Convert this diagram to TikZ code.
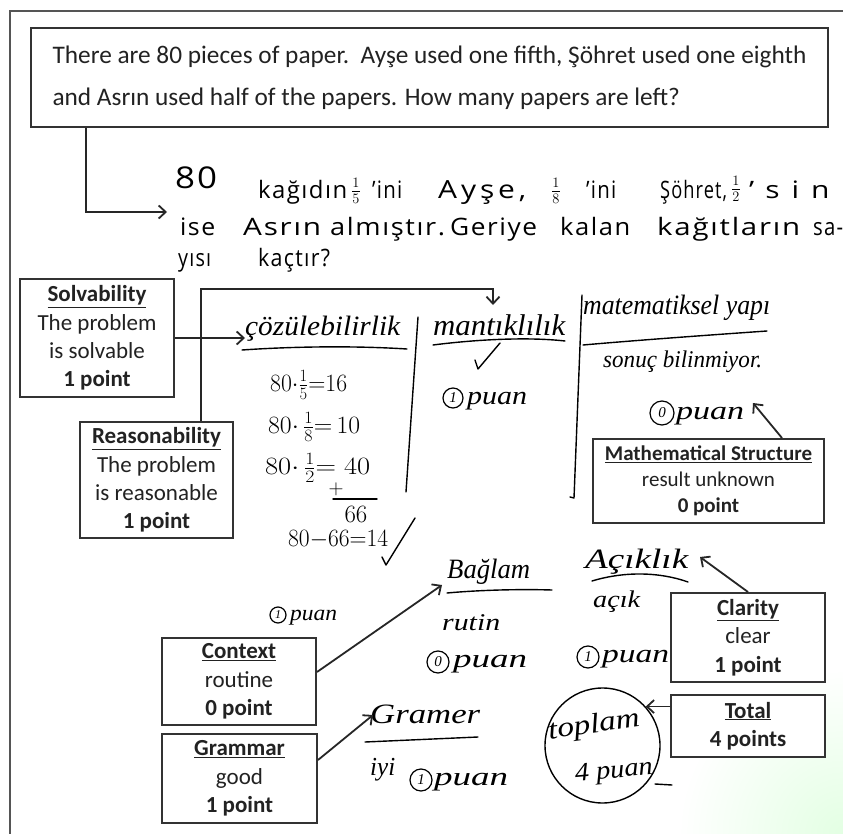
\documentclass[tikz,border=0pt]{standalone}
\usepackage{fontspec}
\usepackage{graphicx}
\setmainfont{Carlito}
\newfontfamily\handprint[LetterSpace=6]{Open Sans}
\newfontfamily\handprintwide[LetterSpace=13]{Open Sans}
\newfontfamily\handprintxwide[LetterSpace=40]{Open Sans}
\newfontfamily\handcurs{Liberation Serif}
\usetikzlibrary{arrows.meta,calc}
\definecolor{boxc}{HTML}{333333}
\definecolor{txtc}{HTML}{222222}
\definecolor{framec}{HTML}{555555}
\newcommand\hw[2]{\resizebox{#1pt}{\height}{#2}}
\begin{document}
\begin{tikzpicture}[x=1pt,y=-1pt,
  box/.style={draw=boxc, line width=2pt, fill=white, align=center, inner sep=0pt, text=txtc,
    font=\fontsize{23}{28.3}\selectfont},
  conn/.style={draw=black!85, line width=1.8pt, -{Straight Barb[length=7pt,width=13pt,line width=1.8pt]}},
  hwp/.style={font=\handprint\fontsize{24}{24}\selectfont, anchor=base west, inner sep=0pt},
  hwc/.style={font=\handcurs\itshape\fontsize{28}{28}\selectfont, anchor=base west, inner sep=0pt},
  hmath/.style={font=\fontsize{24}{24}\selectfont, anchor=west, inner sep=0pt},
  hfrac/.style={font=\fontsize{22}{22}\selectfont, inner sep=0pt},
  hs/.style={line width=1.4pt, line cap=round, line join=round},
  cnum/.style={circle, draw, line width=1.2pt, inner sep=0pt, font=\handcurs\itshape\fontsize{15}{15}\selectfont}]
\useasboundingbox (0,0) rectangle (843,834);
\fill[white] (0,0) rectangle (843,834);
\shade[inner color=green!11, outer color=white] (843,834) circle (165);
% outer frame
\draw[framec, line width=1.5pt] (843,11) -- (10,11) -- (10,834);

% question box
\node[box, minimum width=797pt, minimum height=99pt, align=left, font=\fontsize{25.3}{42}\selectfont] (q) at (429.5,77.5)
 {There are 80 pieces of paper.\ \ Ayşe used one fifth, Şöhret used one eighth\\and Asrın used half of the papers. How many papers are left?};

% handwritten problem (line 1)
\node[hwp, font=\handprint\fontsize{30}{30}\selectfont] (w80) at (175,189) {\hw{42}{80}};
\node[hwp] (k1) at (258,199) {\hw{89}{kağıdın}};
\node[hfrac] (f1) at (356,191) {$\frac{1}{5}$};
\node[hwp] (i1) at (372,199) {\hw{30}{’ini}};
\node[hwp, font=\handprintwide\fontsize{25}{25}\selectfont] (ay) at (438,199) {\hw{88}{Ayşe,}};
\node[hfrac] (f2) at (556,191) {$\frac{1}{8}$};
\node[hwp] (i2) at (586,199) {\hw{30}{’ini}};
\node[hwp] (so) at (660,199) {\hw{67}{Şöhret,}};
\node[hfrac] (f3) at (736,189) {$\frac{1}{2}$};
\node[hwp, font=\handprintxwide\fontsize{24}{24}\selectfont] (si) at (749,199) {\hw{100}{’sini}};
% line 2
\node[hwp] (ise) at (180,236) {\hw{35}{ise}};
\node[hwp] (asr) at (243,236) {\hw{78}{Asrın}};
\node[hwp] (alm) at (330,236) {\hw{115}{almıştır.}};
\node[hwp] (ger) at (450,236) {\hw{87}{Geriye}};
\node[hwp] (kal) at (560,236) {\hw{70}{kalan}};
\node[hwp] (kag) at (657,236) {\hw{143}{kağıtların}};
\node[hwp] (sa) at (813,236) {\hw{30}{sa-}};
% line 3
\node[hwp] (yis) at (178,267) {\hw{33}{yısı}};
\node[hwp] (kac) at (258,267) {\hw{72}{kaçtır?}};

\coordinate (hwin) at (167,212);
\draw[conn] ([xshift=56pt]q.south west) |- (hwin);

% left boxes
\node[box, minimum width=154pt, minimum height=118pt] (solv) at (97,338)
 {\underline{\textbf{Solvability}}\\The problem\\is solvable\\\textbf{1 point}};
\node[box, minimum width=153pt, minimum height=116pt] (reas) at (156.5,480)
 {\underline{\textbf{Reasonability}}\\The problem\\is reasonable\\\textbf{1 point}};

% solvability column
\node[hwc] (coz) at (245,335) {\hw{155}{çözülebilirlik}};
\draw[hs] (242,350) .. controls (300,346) and (360,346) .. (407,349);
\node[hmath] (c1) at (270,385) {\hw{77}{$80{\cdot}\frac{1}{5}{=}16$}};
\node[hmath] (c2) at (268,427) {\hw{92}{$80{\cdot}\,\frac{1}{8}{=}\,10$}};
\node[hmath] (c3) at (265,468) {\hw{105}{$80{\cdot}\,\frac{1}{2}{=}\;40$}};
\node[font=\fontsize{20}{20}\selectfont, inner sep=0pt] (plus) at (336,489) {$+$};
\draw[hs] (333,499) -- (377,499);
\node[font=\fontsize{24}{24}\selectfont, inner sep=0pt] (c66) at (356,514) {$66$};
\node[hmath] (c4) at (288,540) {\hw{100}{$80{-}66{=}14$}};
\draw[hs] (415,518) -- (386,565) -- (382,557);
\draw[hs] (418,317) -- (406,492);

% reasonability column
\node[hwc, font=\handcurs\itshape\fontsize{30}{30}\selectfont] (mant) at (433,335) {\hw{132}{mantıklılık}};
\draw[hs] (433,345) .. controls (480,339) and (530,337) .. (565,341);
\draw[hs] (475,360) -- (478,369) -- (500,343);
\node[cnum, minimum size=20pt] (n1) at (453,398) {1};
\node[hwc, font=\handcurs\itshape\fontsize{26}{26}\selectfont] (p1) at (467,404) {\hw{60}{puan}};
\draw[hs] (582,295) -- (574,498) -- (570,497);

\coordinate (mbend) at (493,289);
\coordinate (mantin) at (493,305);
\coordinate (cozin) at (245,338);
\draw[conn] (solv.east) -- (cozin);
\draw[conn] ([xshift=44.5pt]reas.north) |- (mbend) -- (mantin);

% mathematical structure column
\node[hwc] (myap) at (583,314) {\hw{187}{matematiksel yapı}};
\draw[hs] (583,345) .. controls (640,340) and (710,335) .. (767,331);
\node[hwc, font=\handcurs\itshape\fontsize{24}{24}\selectfont] (sb) at (603,367) {\hw{159}{sonuç bilinmiyor.}};
\node[cnum, minimum size=24pt] (n2) at (662,413) {0};
\node[hwc, font=\handcurs\itshape\fontsize{26}{26}\selectfont] (p2) at (676,419) {\hw{68}{puan}};
\node[box, minimum width=231pt, minimum height=84pt, font=\fontsize{21}{26}\selectfont] (math) at (708.5,481)
 {\underline{\textbf{Mathematical Structure}}\\result unknown\\\textbf{0 point}};
\coordinate (mtip) at (753,403);
\draw[conn] ([xshift=73.5pt]math.north) -- (mtip);

% lower part
\node[cnum, minimum size=16pt, font=\handcurs\itshape\fontsize{12}{12}\selectfont] (n3) at (278,615) {1};
\node[hwc, font=\handcurs\itshape\fontsize{22}{22}\selectfont] (p3) at (290,620) {\hw{47}{puan}};

\node[hwc] (bag) at (447,578) {\hw{83}{Bağlam}};
\draw[hs] (447,593) .. controls (480,590) and (520,589) .. (552,590);
\node[hwc, font=\handcurs\itshape\fontsize{24}{24}\selectfont] (rut) at (442,630) {\hw{58}{rutin}};
\node[cnum, minimum size=22pt] (n4) at (438,662) {0};
\node[hwc, font=\handcurs\itshape\fontsize{26}{26}\selectfont] (p4) at (453,667) {\hw{74}{puan}};

\node[hwc] (acik) at (585,568) {\hw{103}{Açıklık}};
\draw[hs] (592,581) .. controls (625,571) and (660,572) .. (688,582);
\node[hwc, font=\handcurs\itshape\fontsize{24}{24}\selectfont] (ack) at (593,607) {\hw{47}{açık}};
\node[cnum, minimum size=22pt] (n5) at (588,657) {1};
\node[hwc, font=\handcurs\itshape\fontsize{26}{26}\selectfont] (p5) at (602,662) {\hw{67}{puan}};

\node[hwc] (gramer) at (370,723) {\hw{110}{Gramer}};
\draw[hs] (365,742) -- (478,737);
\node[hwc, font=\handcurs\itshape\fontsize{26}{26}\selectfont] (iyi) at (370,775) {\hw{25}{iyi}};
\node[cnum, minimum size=22pt] (n6) at (421,780) {1};
\node[hwc, font=\handcurs\itshape\fontsize{26}{26}\selectfont] (p6) at (434,785) {\hw{74}{puan}};

\node[circle, draw, line width=1.4pt, minimum size=115pt, inner sep=0pt] (circ) at (602.5,745.5) {};
\draw[hs] (655,784) -- (672,785);
\node[font=\handcurs\itshape\fontsize{28}{28}\selectfont, inner sep=0pt, rotate=8] (topl) at (594,726) {\hw{92}{toplam}};
\node[font=\handcurs\itshape\fontsize{26}{26}\selectfont, inner sep=0pt, rotate=5] (dort) at (614,772) {\hw{78}{4 puan}};

\node[box, minimum width=154pt, minimum height=87pt] (ctx) at (239,681.5)
 {\underline{\textbf{Context}}\\routine\\\textbf{0 point}};
\node[box, minimum width=155pt, minimum height=89pt] (gram) at (239.5,778.5)
 {\underline{\textbf{Grammar}}\\good\\\textbf{1 point}};
\node[box, minimum width=154pt, minimum height=89pt] (clar) at (748,637.5)
 {\underline{\textbf{Clarity}}\\clear\\\textbf{1 point}};
\node[box, minimum width=154pt, minimum height=62pt] (total) at (748,726)
 {\underline{\textbf{Total}}\\\textbf{4 points}};

\coordinate (btip) at (442,585);
\coordinate (gtip) at (373,715);
\coordinate (atip) at (700,557);
\draw[conn] ([yshift=9.5pt]ctx.east) -- (btip);
\draw[conn] ([yshift=18.5pt]gram.east) -- (gtip);
\draw[conn] (clar.north) -- (atip);
\draw[conn] (total.west |- circ.42) -- (circ.42);
\end{tikzpicture}
\end{document}
